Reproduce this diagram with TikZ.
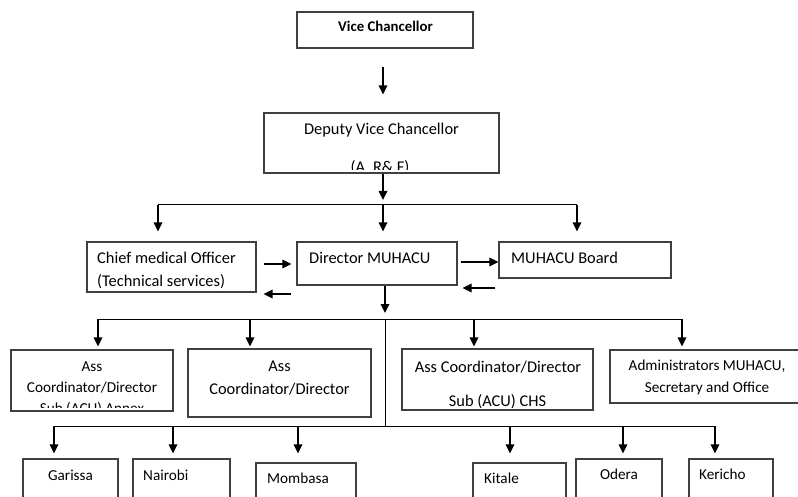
\documentclass[tikz,border=0pt]{standalone}
\usepackage{fontspec}
\setmainfont{Carlito}
\usetikzlibrary{arrows.meta}
\begin{document}
\begin{tikzpicture}[x=1pt,y=-1pt,
  box/.style={draw=black!75, line width=1.1pt, inner sep=0pt},
  tl/.style={inner sep=0pt, font=\fontsize{16.4}{19}\selectfont},
  tm/.style={inner sep=0pt, font=\fontsize{15.2}{18}\selectfont},
  arr/.style={line width=1.7pt, -{Triangle[length=9pt,width=8.5pt]}},
  bus/.style={line width=1pt}]
\useasboundingbox (0,0) rectangle (798,497);
\clip (0,0) rectangle (798,497);

% boxes
\node[box, minimum width=176pt, minimum height=36pt] (vc)  at (385,30) {};
\node[box, minimum width=235pt, minimum height=60pt] (dvc) at (381.5,143) {};
\node[box, minimum width=169pt, minimum height=50pt] (cmo) at (171.5,267) {};
\node[box, minimum width=160pt, minimum height=43pt] (dir) at (377,263.5) {};
\node[box, minimum width=172pt, minimum height=36pt] (brd) at (585,260) {};
\node[box, minimum width=162pt, minimum height=61pt] (ba)  at (92,380.5) {};
\node[box, minimum width=183pt, minimum height=68pt] (bb)  at (279.5,383) {};
\node[box, minimum width=191pt, minimum height=61pt] (bc)  at (497.5,379.5) {};
\node[box, minimum width=194pt, minimum height=53pt] (bd)  at (707,376.5) {};
\node[box, minimum width=95pt,  minimum height=46pt] (gar) at (70.5,482) {};
\node[box, minimum width=97pt,  minimum height=46pt] (nai) at (181.5,482) {};
\node[box, minimum width=100pt, minimum height=42pt] (mom) at (306,484) {};
\node[box, minimum width=93pt,  minimum height=42pt] (kit) at (519.5,484) {};
\node[box, minimum width=86pt,  minimum height=46pt] (ode) at (619,482) {};
\node[box, minimum width=84pt,  minimum height=46pt] (ker) at (731,482) {};

% texts
\node[inner sep=0pt, anchor=base, font=\fontsize{14.8}{17}\selectfont\bfseries] (tvc) at (385.5,32) {Vice Chancellor};
\node[tl, anchor=base] (tdvc1) at (381.5,135) {Deputy Vice Chancellor};
\begin{scope}
  \clip (265,114) rectangle (498,170);
  \node[tl, anchor=base] (tdvc2) at (380,172.5) {(A. R\& F)};
\end{scope}
\node[tl, anchor=base west] (tcmo1) at (97,264) {Chief medical Officer};
\node[tl, anchor=base west] (tcmo2) at (97,287) {(Technical services)};
\node[tl, anchor=base west] (tdir) at (309,264) {Director MUHACU};
\node[tl, anchor=base west] (tbrd) at (511,263) {MUHACU Board};
\node[tm, anchor=base] (ta1) at (92,371) {Ass};
\node[tm, anchor=base] (ta2) at (92,392) {Coordinator/Director};
\begin{scope}
  \clip (12,351) rectangle (172,407);
  \node[tm, anchor=base] (ta3) at (92,413) {Sub (ACU) Annex};
\end{scope}
\node[tl, anchor=base] (tb1) at (279.5,371) {Ass};
\node[tl, anchor=base] (tb2) at (279.5,394) {Coordinator/Director};
\node[tl, anchor=base] (tc1) at (498,372) {Ass Coordinator/Director};
\begin{scope}
  \clip (403,350) rectangle (592,407);
  \node[tl, anchor=base] (tc2) at (497.5,406.5) {Sub (ACU) CHS};
\end{scope}
\node[tm, anchor=base] (td1) at (707,370) {Administrators MUHACU,};
\node[tm, anchor=base] (td2) at (707,392) {Secretary and Office};
\node[tm, anchor=base] (tgar) at (70.5,480) {Garissa};
\node[tm, anchor=base west] (tnai) at (143,480) {Nairobi};
\node[tm, anchor=base west] (tmom) at (267,483) {Mombasa};
\node[tm, anchor=base west] (tkit) at (484,483) {Kitale};
\node[tm, anchor=base] (tode) at (619,479) {Odera};
\node[tm, anchor=base west] (tker) at (699,479) {Kericho};

% junction coordinates
\coordinate (j1l) at (158,205);
\coordinate (j1)  at (383,205);
\coordinate (j1r) at (577,205);
\coordinate (j2l) at (98,319);
\coordinate (j2b) at (250,319);
\coordinate (j2)  at (385,319);
\coordinate (j2c) at (474,319);
\coordinate (j2r) at (682,319);
\coordinate (j3l) at (54,426);
\coordinate (j3b) at (173,426);
\coordinate (j3c) at (298,426);
\coordinate (j3)  at (385,426);
\coordinate (j3d) at (510,426);
\coordinate (j3e) at (623,426);
\coordinate (j3r) at (715,426);
\coordinate (ya) at (0,264);
\coordinate (yb) at (0,294);
\coordinate (yc) at (0,262);
\coordinate (yd) at (0,288);

% connectors
\draw[arr, shorten <=18pt, shorten >=18pt] ([xshift=-2pt]vc.south) -- ([xshift=1.5pt]dvc.north);
\draw[arr] ([xshift=1.5pt]dvc.south) -- ([yshift=5pt]j1);
\draw[bus] (j1l) -- (j1r);
\draw[arr, shorten >=10pt] (j1l) -- (j1l |- cmo.north);
\draw[arr, shorten >=10pt] (j1) -- (j1 |- dir.north);
\draw[arr, shorten >=10pt] (j1r) -- (j1r |- brd.north);

\draw[arr, shorten <=7pt, shorten >=5pt] (cmo.east |- ya) -- (dir.west |- ya);
\draw[arr, shorten <=5pt, shorten >=7pt] (dir.west |- yb) -- (cmo.east |- yb);
\draw[arr, shorten <=3pt] (dir.east |- yc) -- (brd.west |- yc);
\draw[arr, shorten <=3pt, shorten >=5pt] (brd.west |- yd) -- (dir.east |- yd);

\draw[arr] (dir.south -| j2) -- ([yshift=6pt]j2);
\draw[bus] (j2l) -- (j2r);
\draw[arr, shorten >=3pt] (j2l) -- (j2l |- ba.north);
\draw[arr, shorten >=2pt] (j2b) -- (j2b |- bb.north);
\draw[arr, shorten >=2pt] (j2c) -- (j2c |- bc.north);
\draw[arr, shorten >=3pt] (j2r) -- (j2r |- bd.north);
\draw[bus] (j2) -- (j3);
\draw[bus] (j3l) -- (j3r);
\draw[arr, shorten >=5pt] (j3l) -- (j3l |- gar.north);
\draw[arr, shorten >=5pt] (j3b) -- (j3b |- nai.north);
\draw[arr, shorten >=9pt] (j3c) -- (j3c |- mom.north);
\draw[arr, shorten >=9pt] (j3d) -- (j3d |- kit.north);
\draw[arr, shorten >=5pt] (j3e) -- (j3e |- ode.north);
\draw[arr, shorten >=5pt] (j3r) -- (j3r |- ker.north);
\end{tikzpicture}
\end{document}
